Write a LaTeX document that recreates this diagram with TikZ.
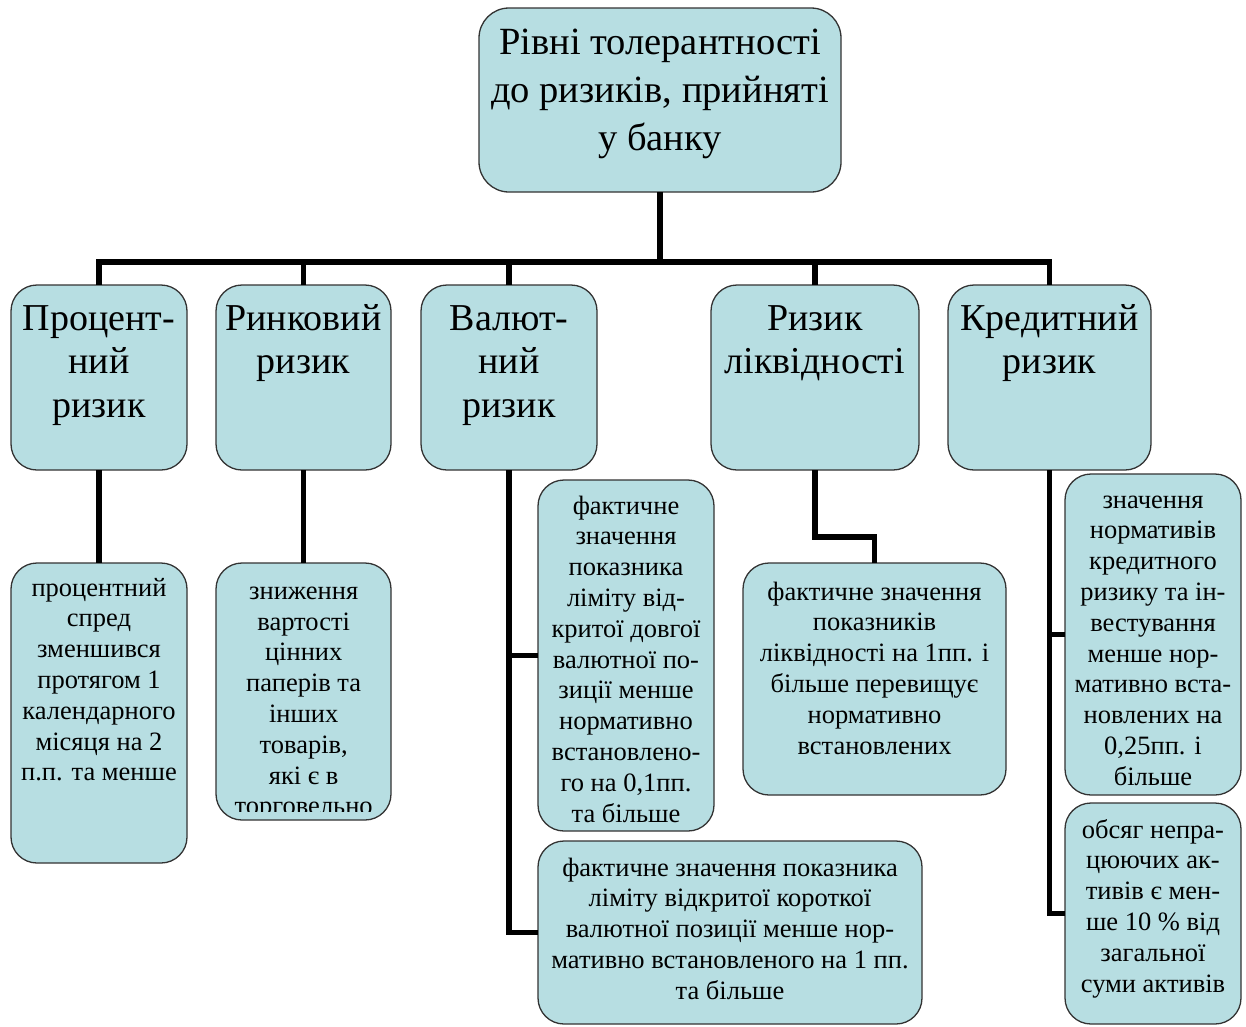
\documentclass[tikz,border=0pt]{standalone}
\usepackage{fontspec}
\setmainfont{Liberation Serif}

\definecolor{riskfill}{RGB}{183,222,226}
\newcommand{\boxlines}[4]{\parbox[c][#2][t]{#1}{\centering\rule{0pt}{#3}#4}}

\tikzset{
	riskbox/.style={draw=black!80, line width=1.3pt, fill=riskfill, rounded corners=26pt, inner sep=0pt, outer sep=0pt, anchor=north west},
	headtext/.style={font=\fontsize{38.5}{48}\selectfont},
	kindtext/.style={font=\fontsize{38}{43.5}\selectfont},
	detailtext/.style={font=\fontsize{26.5}{30.8}\selectfont},
	link/.style={line width=5.5pt}
}

\begin{document}
\begin{tikzpicture}[x=1pt, y=-1pt]
		\useasboundingbox (0,0) rectangle (1246,1026);
	
		\node[riskbox, headtext, rounded corners=30pt] (top) at (479,8) {\boxlines{362pt}{184pt}{46pt}{Рівні толерантності\\до ризиків, прийняті\\у банку}};
		
		\node[riskbox, kindtext] (r1) at (11,285) {\boxlines{176pt}{185pt}{45pt}{Процент-\\ний\\ризик}};
		\node[riskbox, kindtext] (r2) at (216,285) {\boxlines{175pt}{185pt}{45pt}{Ринковий\\ризик}};
		\node[riskbox, kindtext] (r3) at (421,285) {\boxlines{176pt}{185pt}{45pt}{Валют-\\ний\\ризик}};
		\node[riskbox, kindtext] (r4) at (711,285) {\boxlines{208pt}{185pt}{45pt}{Ризик\\ліквідності}};
		\node[riskbox, kindtext] (r5) at (948,285) {\boxlines{203pt}{185pt}{45pt}{Кредитний\\ризик}};
		
		\node[riskbox, detailtext] (a) at (11,563) {\boxlines{176pt}{300pt}{33pt}{процентний\\спред\\зменшився\\протягом 1\\календарного\\місяця на 2\\п.п. та менше}};
		\node[riskbox, minimum width=175pt, minimum height=257pt] (b) at (216,563) {};
		\begin{scope}
			\clip (216,563) rectangle (391,811);
			\node[detailtext, anchor=north west, inner sep=0pt] (btext) at (216,563) {\boxlines{175pt}{257pt}{36pt}{зниження\\вартості\\цінних\\паперів та\\інших\\товарів,\\які є в\\торговельно}};
		\end{scope}
		\node[riskbox, detailtext] (c) at (538,480) {\boxlines{176pt}{351pt}{34pt}{фактичне\\значення\\показника\\ліміту від-\\критої довгої\\валютної по-\\зиції менше\\нормативно\\встановлено-\\го на 0,1пп.\\та більше}};
		\node[riskbox, detailtext] (d) at (538,841) {\boxlines{384pt}{183pt}{35pt}{фактичне значення показника\\ліміту відкритої короткої\\валютної позиції менше нор-\\мативно встановленого на 1 пп.\\та більше}};
		\node[riskbox, detailtext] (e) at (743,563) {\boxlines{263pt}{232pt}{37pt}{фактичне значення\\показників\\ліквідності на 1пп. і\\більше перевищує\\нормативно\\встановлених}};
		\node[riskbox, detailtext] (f) at (1065,474) {\boxlines{176pt}{321pt}{34pt}{значення\\нормативів\\кредитного\\ризику та ін-\\вестування\\менше нор-\\мативно вста-\\новлених на\\0,25пп. і\\більше}};
		\node[riskbox, detailtext] (g) at (1065,803) {\boxlines{176pt}{221pt}{35pt}{обсяг непра-\\цюючих ак-\\тивів є мен-\\ше 10 \% від\\загальної\\суми активів}};
		
		\draw[link] (top.south) -- ++(0,70) coordinate (bus);
		\foreach \r in {r1,r2,r3,r4,r5}
			\draw[link] (bus) -| (\r.north);
		\draw[link] (r1.south) -- (a.north);
		\draw[link] (r2.south) -- (b.north);
		\draw[link] (r3.south) |- (c.west);
		\draw[link] (r3.south) |- (d.west);
		\draw[link] (r4.south) -- ++(0,67) -| (e.north);
		\draw[link] (r5.south) |- (f.west);
		\draw[link] (r5.south) |- (g.west);
	
	\end{tikzpicture}
\end{document}
